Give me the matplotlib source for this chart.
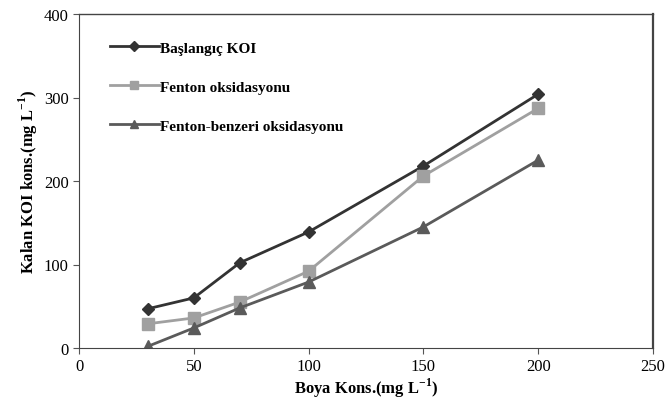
import matplotlib
matplotlib.use("Agg")
import matplotlib.pyplot as plt

x = [30, 50, 70, 100, 150, 200]
baslangic = [47, 60, 102, 139, 218, 304]
fenton = [29, 36, 55, 92, 206, 287]
fenton_benzeri = [2, 24, 48, 79, 145, 225]

plt.rcParams['font.family'] = ['Liberation Serif', 'DejaVu Serif']

fig = plt.figure(figsize=(6.69, 4.14), dpi=100)
ax = fig.add_axes([79/669, 1 - 349/414, (653-79)/669, (349-15)/414])

ax.plot(x, baslangic, color='#333333', marker='D', markersize=6, lw=2, label='Başlangıç KOI')
ax.plot(x, fenton, color='#a0a0a0', marker='s', markersize=8, lw=2, label='Fenton oksidasyonu')
ax.plot(x, fenton_benzeri, color='#5a5a5a', marker='^', markersize=8, lw=2, label='Fenton-benzeri oksidasyonu')

ax.set_xlim(0, 250)
ax.set_ylim(0, 400)
ax.set_xticks([0, 50, 100, 150, 200, 250])
ax.set_yticks([0, 100, 200, 300, 400])
ax.tick_params(direction='out', labelsize=12, length=4, color='#555555')
for s in ax.spines.values():
    s.set_color('#444444')
ax.spines['right'].set_linewidth(1.6)
ax.spines['top'].set_linewidth(1.0)

ax.set_xlabel('Boya Kons.(mg L$^{\\mathregular{-1}}$)', fontsize=12, fontweight='bold', labelpad=1)
ax.set_ylabel('Kalan KOI kons.(mg L$^{\\mathregular{-1}}$)', fontsize=12, fontweight='bold', labelpad=3)

ax.legend(loc='upper left', bbox_to_anchor=(0.03, 0.96), frameon=False,
          prop={'size': 11, 'weight': 'semibold'},
          handlelength=3.2, handletextpad=0.1, labelspacing=1.65, markerscale=0.8)

fig.savefig('out.png', dpi=100)
